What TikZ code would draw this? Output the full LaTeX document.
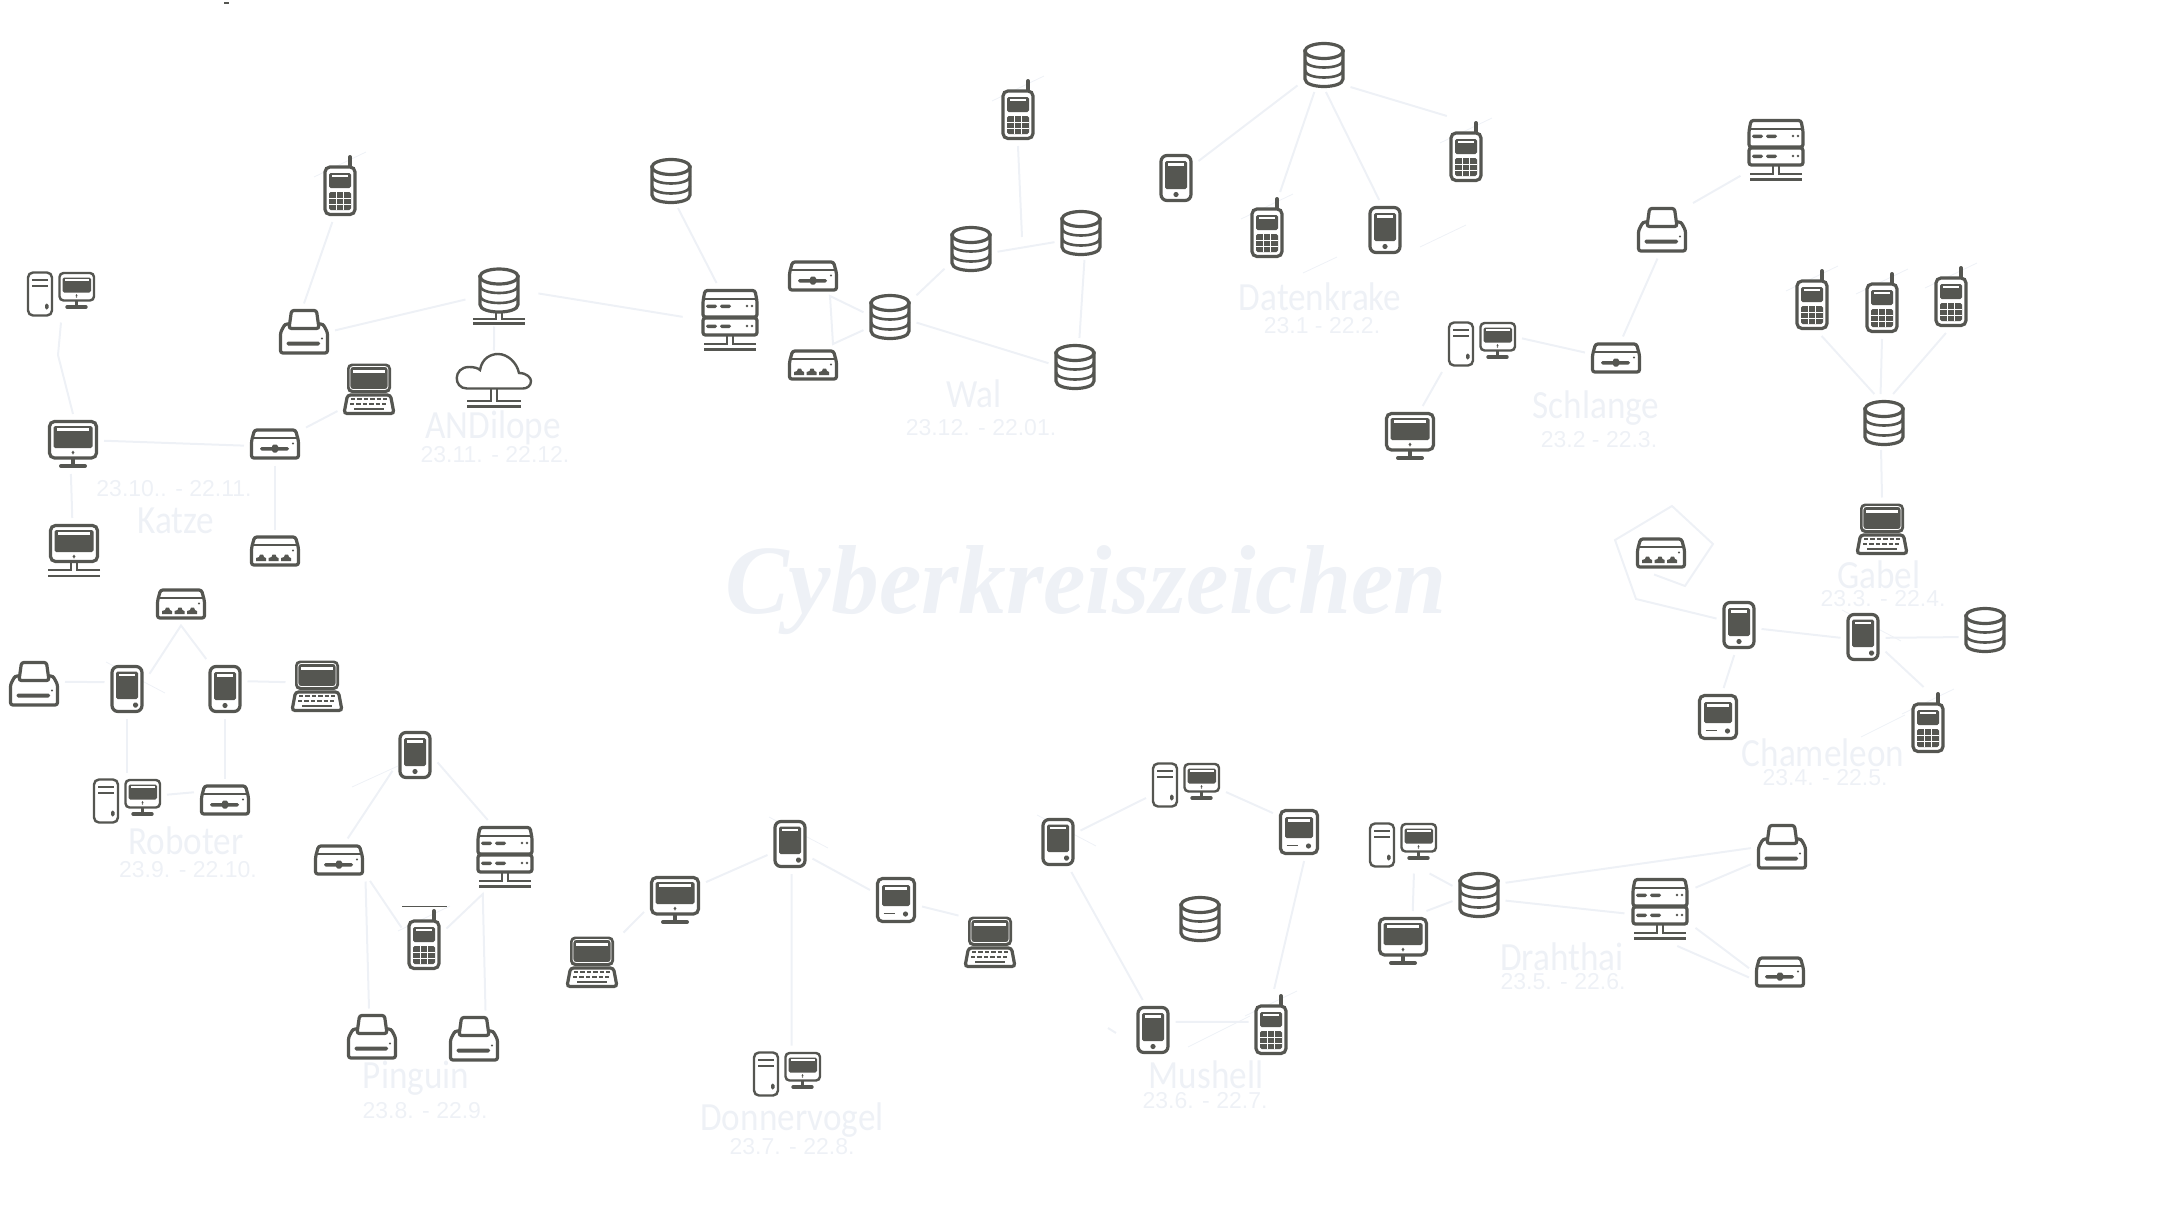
\documentclass[tikz,border=0pt]{standalone}
\usepackage{fontspec}
\setmainfont{Liberation Sans}
\newfontfamily\namefont[FakeStretch=0.88]{Carlito}
\newfontfamily\titlefont[FakeStretch=0.975]{Liberation Serif}
\definecolor{icongray}{HTML}{555651}
\definecolor{faint}{HTML}{EEF1F6}

\tikzset{
  ink/.style={draw=icongray,line width=1.6pt,fill=white,rounded corners=1.5pt},
  wire/.style={draw=icongray,line width=1.1pt},
  blot/.style={fill=icongray,rounded corners=0.8pt},
  glint/.style={fill=white},
  hair/.style={draw=faint,line width=0.4pt},
  link/.style={draw=faint,line width=1pt},
  iconbox/.style={inner sep=0pt,outer sep=3pt},
  cellbox/.style={iconbox,minimum width=16.5pt,minimum height=30pt},
  phonebox/.style={iconbox,minimum width=16.5pt,minimum height=24pt},
  pdabox/.style={iconbox,minimum width=16.5pt,minimum height=24pt},
  palmbox/.style={iconbox,minimum width=20pt,minimum height=23pt},
  monitorbox/.style={iconbox,minimum width=25pt,minimum height=24pt},
  monnetbox/.style={iconbox,minimum width=26pt,minimum height=27pt},
  deskbox/.style={iconbox,minimum width=34pt,minimum height=22.5pt},
  printerbox/.style={iconbox,minimum width=25pt,minimum height=22.5pt},
  laptopbox/.style={iconbox,minimum width=25.5pt,minimum height=25.5pt},
  switchbox/.style={iconbox,minimum width=25pt,minimum height=15.5pt},
  hubbox/.style={iconbox,minimum width=25pt,minimum height=15.5pt},
  serverbox/.style={iconbox,minimum width=29.5pt,minimum height=31pt},
  dbbox/.style={iconbox,minimum width=20.5pt,minimum height=22pt},
  dbnetbox/.style={iconbox,minimum width=27.5pt,minimum height=28.5pt},
  cloudbox/.style={iconbox,minimum width=37pt,minimum height=27.5pt},
  groupname/.style={text=faint,font=\namefont\fontsize{20}{20}\selectfont,anchor=base,inner sep=0pt,text height=13pt,text depth=0pt},
  groupdate/.style={text=faint,font=\fontsize{11.5}{12}\selectfont,anchor=base,inner sep=0pt,text height=8.5pt,text depth=0pt},
  cell/.pic={
    \draw[hair] (-26,-9) -- (26,-34);
    \draw[icongray,line width=2pt,line cap=round] (10,-29) -- (10,-20);
    \path[ink,rounded corners=2.5pt] (-15,-19) rectangle (15,28.5);
    \path[blot] (-11,-13) rectangle (11,2);
    \path[glint] (-8,-11) rectangle (8,-9.5);
    \path[blot] (-11,6) rectangle (11,24);
    \draw[white,line width=0.4pt] (-3.7,6) -- (-3.7,24) (3.7,6) -- (3.7,24) (-11,12) -- (11,12) (-11,18) -- (11,18);
  },
  phone/.pic={
    \path[ink,rounded corners=3pt] (-15,-22.5) rectangle (15,22.5);
    \path[blot] (-11,-17) rectangle (11,11);
    \path[glint] (-8,-15) rectangle (8,-12.5);
    \fill[icongray] (0,16.5) circle (1.3pt);
  },
  pda/.pic={
    \draw[hair] (-21,-27) -- (38,4);
    \path[ink,rounded corners=3pt] (-15,-22.5) rectangle (15,22.5);
    \path[blot] (-11,-17.5) rectangle (11,10);
    \path[glint] (-8,-15.5) rectangle (8,-13.5);
    \path[blot] (6,13.5) rectangle (11,18.5);
  },
  palm/.pic={
    \path[ink,rounded corners=2.5pt] (-18.5,-21.5) rectangle (18.5,21.5);
    \path[blot] (-14,-15) rectangle (14,6);
    \path[glint] (-11,-13) rectangle (11,-10.5);
    \draw[icongray,line width=0.9pt] (-12.5,13.5) -- (-1.5,13.5);
    \fill[icongray] (9.5,14) circle (1.3pt);
  },
  monitor/.pic={
    \draw[icongray,line width=1.6pt] (0,13) -- (0,21);
    \draw[icongray,line width=2pt,line cap=round] (-12,22) -- (12,22);
    \path[ink,rounded corners=2.5pt] (-23.5,-22.5) rectangle (23.5,14);
    \path[blot] (-19.5,-18) rectangle (19.5,4);
    \path[glint] (-16,-16) rectangle (16,-13.5);
    \path[blot] (-1.3,6.5) rectangle (1.3,10.5);
  },
  monnet/.pic={
    \path[ink,rounded corners=2.5pt] (-23.5,-25.5) rectangle (23.5,10.5);
    \path[blot] (-19.5,-21) rectangle (19.5,1);
    \path[glint] (-16,-19) rectangle (16,-16.5);
    \path[blot] (-1.3,3.5) rectangle (1.3,7.5);
    \draw[wire] (-26,19) -- (-3,19) -- (-3,11.5) (26,19) -- (3,19) -- (3,11.5) (-26,25) -- (26,25);
  },
  desk/.pic={
    \path[ink,line width=1.2pt,rounded corners=2.5pt] (-33,-21.5) rectangle (-9,21.5);
    \draw[wire,line width=0.9pt] (-29,-14) -- (-13,-14) (-29,-8) -- (-13,-8);
    \path[blot] (-16,9.5) rectangle (-12.5,15.5);
    \draw[icongray,line width=1.4pt] (15.5,6) -- (15.5,12);
    \draw[icongray,line width=1.7pt,line cap=round] (6,13) -- (25,13);
    \path[ink,line width=1.2pt,rounded corners=2pt] (-1.5,-21) rectangle (33,6.5);
    \path[blot] (1.5,-16.5) rectangle (30,-1.5);
    \path[glint] (4,-15) rectangle (27.5,-13);
    \path[blot] (14.5,0) rectangle (16.5,3.5);
  },
  printer/.pic={
    \path[ink,rounded corners=1.2pt] (-19,-8) -- (-23.5,0.5) -- (-23.5,21) -- (23.5,21) -- (23.5,0.5) -- (19,-8) -- cycle;
    \path[ink,rounded corners=1.2pt] (-12.5,-21.5) -- (12.5,-21.5) -- (15,-3.5) -- (-15,-3.5) -- cycle;
    \path[blot] (-17.5,9.5) rectangle (16,13.5);
    \fill[icongray] (18,6.5) circle (0.6pt);
  },
  laptop/.pic={
    \path[ink,rounded corners=1.5pt] (-21.5,6) -- (21.5,6) -- (25,24.5) -- (-25,24.5) -- cycle;
    \draw[icongray,line width=1pt,dash pattern=on 2.2pt off 1pt] (-18,10) -- (18,10) (-19,14.5) -- (19,14.5);
    \draw[icongray,line width=1pt] (-15,20) -- (15,20);
    \path[blot,rounded corners=2.5pt] (-22,-25.5) rectangle (22,4);
    \draw[white,line width=0.4pt,rounded corners=1.5pt] (-19,-22.5) rectangle (19,0.5);
    \path[glint] (-16,-19) rectangle (16,-16.5);
  },
  switch/.pic={
    \path[ink,rounded corners=1.2pt] (-20.5,-14) -- (20.5,-14) -- (23.5,-3) -- (23.5,14) -- (-23.5,14) -- (-23.5,-3) -- cycle;
    \draw[wire] (-22,-6) -- (22,-6);
    \path[blot] (-15,3) rectangle (14,6.5);
    \path[blot] (-3,0.5) rectangle (3,8.5);
    \fill[icongray] (18,-0.5) circle (0.6pt);
  },
  hub/.pic={
    \path[ink,rounded corners=1.2pt] (-20.5,-14) -- (20.5,-14) -- (23.5,-3) -- (23.5,14) -- (-23.5,14) -- (-23.5,-3) -- cycle;
    \draw[wire] (-22,-6) -- (22,-6);
    \fill[icongray] (-19,10) -- (-19,7) -- (-16,6) -- (-15,3.5) -- (-12,3.5) -- (-11,6) -- (-9,7) -- (-9,10) -- cycle;
    \fill[icongray] (-6.5,10) -- (-6.5,7) -- (-3.5,6) -- (-2.5,3.5) -- (0.5,3.5) -- (1.5,6) -- (3.5,7) -- (3.5,10) -- cycle;
    \fill[icongray] (6,10) -- (6,7) -- (9,6) -- (10,3.5) -- (13,3.5) -- (14,6) -- (16,7) -- (16,10) -- cycle;
    \fill[icongray] (18,-0.5) circle (0.6pt);
  },
  server/.pic={
    \path[ink,rounded corners=1.2pt] (-25,-29.5) -- (25,-29.5) -- (27,-19) -- (27,-3) -- (-27,-3) -- (-27,-19) -- cycle;
    \draw[wire] (-26,-21) -- (26,-21);
    \path[ink,rounded corners=1.2pt] (-27,-2) rectangle (27,15);
    \path[blot] (-24,-15.5) rectangle (-13,-12);
    \path[blot] (-10,-15.5) rectangle (1,-12);
    \fill[icongray] (17,-14) circle (0.7pt) (22,-14) circle (0.7pt);
    \path[blot] (-24,4.5) rectangle (-13,8);
    \path[blot] (-10,4.5) rectangle (1,8);
    \fill[icongray] (17,6) circle (0.7pt) (22,6) circle (0.7pt);
    \draw[wire] (-26,24) -- (-3,24) -- (-3,16) (26,24) -- (3,24) -- (3,16) (-26,29.5) -- (26,29.5);
  },
  db/.pic={
    \path[ink,rounded corners=0pt] (-19,-13) -- (-19,15) .. controls (-19,25) and (19,25) .. (19,15) -- (19,-13) -- cycle;
    \draw[ink,rounded corners=0pt] (0,-13) ellipse [x radius=19,y radius=7.5];
    \draw[wire,line width=1.3pt] (-19,-4) .. controls (-19,6) and (19,6) .. (19,-4) (-19,6) .. controls (-19,16) and (19,16) .. (19,6);
  },
  dbnet/.pic={
    \path[ink,rounded corners=0pt] (-19,-19.5) -- (-19,8.5) .. controls (-19,18.5) and (19,18.5) .. (19,8.5) -- (19,-19.5) -- cycle;
    \draw[ink,rounded corners=0pt] (0,-19.5) ellipse [x radius=19,y radius=7.5];
    \draw[wire,line width=1.3pt] (-19,-10.5) .. controls (-19,-0.5) and (19,-0.5) .. (19,-10.5) (-19,-0.5) .. controls (-19,9.5) and (19,9.5) .. (19,-0.5);
    \draw[wire] (-26,23) -- (-3,23) -- (-3,16) (26,23) -- (3,23) -- (3,16) (-26,27.5) -- (26,27.5);
  },
  cloud/.pic={
    \path[ink,line width=1.2pt,rounded corners=0pt] (-27,8.5) .. controls (-41,8.5) and (-41,-13) .. (-25,-13) .. controls (-20,-13) and (-16,-12) .. (-14,-10) .. controls (-12,-22) and (-3,-26) .. (4,-26) .. controls (14,-26) and (23,-17) .. (25,-7) .. controls (33,-7) and (37,-2) .. (37,1) .. controls (37,6) and (33,8.5) .. (29,8.5) -- cycle;
    \draw[wire] (-27,21) -- (-3,21) -- (-3,9) (27,21) -- (3,21) -- (3,9) (-27,26.5) -- (27,26.5);
  },
}
\newcommand{\iconat}[3]{\path (#3) pic {#1} node[#1box] (#2) {};}

\begin{document}
\begin{tikzpicture}[x=0.5pt,y=-0.5pt]
 \useasboundingbox (0,0) rectangle (2160,1215);

 \node[text=faint,font=\titlefont\bfseries\itshape\fontsize{49}{49}\selectfont,anchor=base,inner sep=0pt] (title) at (1086,613) {Cyberkreiszeichen};
 \coordinate (ticka) at (224,3);
 \coordinate (tickb) at (229,3);
 \draw[icongray,line width=1pt] (ticka) -- (tickb);

 \iconat{dbnet}{anddb}{499,296}
 \iconat{cloud}{andcloud}{494,380}
 \iconat{printer}{andprinter}{304,332}
 \iconat{cell}{andcell}{340,186}
 \node[groupname] (andname) at (493,438) {ANDilope};
 \node[groupdate] (anddate) at (495,462) {23.11. - 22.12.};

 \iconat{desk}{catdesk}{61,294}
 \iconat{monitor}{catmon}{73,444}
 \iconat{monnet}{catmonnet}{74,551}
 \iconat{switch}{catswitch}{275,444}
 \iconat{hub}{cathub}{275,551}
 \iconat{laptop}{catlaptop}{369,389}
 \node[groupname] (catname) at (176,533) {Katze};
 \node[groupdate] (catdate) at (174,496) {23.10.. - 22.11.};

 \iconat{hub}{robhub}{181,604}
 \iconat{printer}{robprinter}{34,684}
 \iconat{pda}{robpda}{127,689}
 \iconat{phone}{robphone}{225,689}
 \iconat{laptop}{roblaptop}{317,686}
 \iconat{desk}{robdesk}{127,801}
 \iconat{switch}{robswitch}{225,800}
 \node[groupname] (robname) at (186,854) {Roboter};
 \node[groupdate] (robdate) at (188,877) {23.9. - 22.10.};

 \iconat{phone}{pinphone}{415,755}
 \iconat{switch}{pinswitch}{339,860}
 \iconat{server}{pinserver}{505,857}
 \iconat{cell}{pincell}{424,940}
 \iconat{printer}{pinprinterl}{372,1037}
 \iconat{printer}{pinprinterr}{474,1039}
 \node[groupname] (pinname) at (416,1088) {Pinguin};
 \node[groupdate] (pindate) at (425,1118) {23.8. - 22.9.};

 \iconat{laptop}{donlaptopl}{592,962}
 \iconat{monitor}{donmon}{675,900}
 \iconat{pda}{donpda}{790,844}
 \iconat{palm}{donpalm}{896,900}
 \iconat{laptop}{donlaptopr}{990,942}
 \iconat{desk}{dondesk}{787,1074}
 \node[groupname] (donname) at (792,1130) {Donnervogel};
 \node[groupdate] (dondate) at (792,1154) {23.7. - 22.8.};

 \iconat{pda}{muspda}{1058,842}
 \iconat{desk}{musdesk}{1186,785}
 \iconat{palm}{muspalm}{1299,832}
 \iconat{db}{musdb}{1200,918}
 \iconat{phone}{musphone}{1153,1030}
 \iconat{cell}{muscell}{1271,1025}
 \node[groupname] (musname) at (1206,1088) {Mushell};
 \node[groupdate] (musdate) at (1205,1108) {23.6. - 22.7.};

 \iconat{desk}{drhdesk}{1403,845}
 \iconat{monitor}{drhmon}{1403,941}
 \iconat{db}{drhdb}{1479,894}
 \iconat{server}{drhserver}{1660,909}
 \iconat{printer}{drhprinter}{1782,847}
 \iconat{switch}{drhswitch}{1780,972}
 \node[groupname] (drhname) at (1562,970) {Drahthai};
 \node[groupdate] (drhdate) at (1563,989) {23.5. - 22.6.};

 \iconat{hub}{chahub}{1661,553}
 \iconat{phone}{chaphone}{1739,625}
 \iconat{pda}{chapda}{1863,637}
 \iconat{db}{chadb}{1985,629}
 \iconat{cell}{chacell}{1928,723}
 \iconat{palm}{chapalm}{1718,717}
 \node[groupname] (chaname) at (1823,766) {Chameleon};
 \node[groupdate] (chadate) at (1825,785) {23.4. - 22.5.};

 \iconat{cell}{gabcella}{1812,300}
 \iconat{cell}{gabcellb}{1882,303}
 \iconat{cell}{gabcellc}{1951,297}
 \iconat{db}{gabdb}{1884,422}
 \iconat{laptop}{gablaptop}{1882,529}
 \node[groupname] (gabname) at (1879,588) {Gabel};
 \node[groupdate] (gabdate) at (1883,606) {23.3. - 22.4.};

 \iconat{server}{schserver}{1776,150}
 \iconat{printer}{schprinter}{1662,230}
 \iconat{switch}{schswitch}{1616,358}
 \iconat{desk}{schdesk}{1482,344}
 \iconat{monitor}{schmon}{1410,436}
 \node[groupname] (schname) at (1596,418) {Schlange};
 \node[groupdate] (schdate) at (1599,447) {23.2 - 22.3.};

 \iconat{db}{dkdb}{1324,64}
 \iconat{phone}{dkphonel}{1176,178}
 \iconat{cell}{dkcellm}{1267,228}
 \iconat{phone}{dkphoner}{1385,230}
 \iconat{cell}{dkcellr}{1466,152}
 \node[groupname] (dkname) at (1320,310) {Datenkrake};
 \node[groupdate] (dkdate) at (1322,333) {23.1 - 22.2.};

 \iconat{db}{waldb}{671,180}
 \iconat{server}{walserver}{730,320}
 \iconat{switch}{walswitch}{813,276}
 \iconat{hub}{walhub}{813,365}
 \iconat{db}{waldba}{890,316}
 \iconat{db}{waldbb}{971,248}
 \iconat{db}{waldbc}{1081,232}
 \iconat{db}{waldbd}{1075,366}
 \iconat{cell}{walcell}{1018,110}
 \node[groupname] (walname) at (974,407) {Wal};
 \node[groupdate] (waldate) at (981,435) {23.12. - 22.01.};

 \coordinate (catbend) at (58,355);
 \coordinate (walbenda) at (830,296);
 \coordinate (walbendb) at (833,344);
 \coordinate (walend) at (1022,237);
 \coordinate (chabenda) at (1636,599);
 \coordinate (chabendb) at (1615,540);
 \coordinate (chabendc) at (1672,506);
 \coordinate (chabendd) at (1713,544);
 \coordinate (chabende) at (1685,586);

 \draw[link] (andprinter.90) -- (andcell.258);
 \draw[link] (andprinter.3) -- (anddb.186);
 \draw[link,shorten <=-2pt,shorten >=-2pt] (anddb.262) -- (andcloud.90);
 \draw[link,shorten <=3pt,shorten >=6pt] (anddb.6) -- (walserver.178);

 \draw[link] (catdesk.270) -- (catbend) -- (catmon.90);
 \draw[link] (catmon.6) -- (catswitch.183);
 \draw[link] (catmon.266) -- (catmonnet.93);
 \draw[link] (catswitch.270) -- (cathub.90);
 \draw[link] (catswitch.28) -- (catlaptop.215);

 \draw[link] (robpda.34) -- (robhub.270) -- (robphone.122);
 \draw[link] (robprinter.4) -- (robpda.163);
 \draw[link] (robphone.19) -- (roblaptop.173);
 \draw[link] (robpda.270) -- (robdesk.90);
 \draw[link] (robphone.270) -- (robswitch.90);
 \draw[link] (robdesk.9) -- (robswitch.166);

 \draw[link] (pinphone.215) -- (pinswitch.68);
 \draw[link] (pinphone.342) -- (pinserver.115);
 \draw[link] (pinswitch.326) -- (pincell.151);
 \draw[link] (pinswitch.321) -- (pinprinterl.96);
 \draw[link] (pincell.27) -- (pinserver.239) -- (pinprinterr.68);

 \draw[link] (donlaptopl.43) -- (donmon.201);
 \draw[link] (donmon.30) -- (donpda.206);
 \draw[link] (donpda.327) -- (donpalm.159);
 \draw[link] (donpalm.346) -- (donlaptopr.140);
 \draw[link] (donpda.273) -- (dondesk.81);

 \draw[link] (muspda.27) -- (musdesk.198);
 \draw[link] (musdesk.350) -- (muspalm.144);
 \draw[link] (muspalm.280) -- (muscell.85);
 \draw[link] (muspda.294) -- (musphone.109);
 \draw[link] (musphone.20) -- (muscell.172);

 \draw[link] (drhdesk.313) -- (drhdb.163);
 \draw[link] (drhmon.52) -- (drhdb.195);
 \draw[link] (drhdesk.291) -- (drhmon.72);
 \draw[link] (drhdb.23) -- (drhprinter.182);
 \draw[link] (drhdb.346) -- (drhserver.187);
 \draw[link] (drhserver.31) -- (drhprinter.209);
 \draw[link] (drhserver.332) -- (drhswitch.173);
 \draw[link] (drhserver.295) -- (drhswitch.190);

 \draw[link] (chaphone.164) -- (chabenda) -- (chabendb) -- (chabendc) -- (chabendd) -- (chabende) -- (chahub.252);
 \draw[link] (chaphone.350) -- (chapda.182);
 \draw[link] (chaphone.261) -- (chapalm.79);
 \draw[link] (chapda.358) -- (chadb.197);
 \draw[link] (chapda.327) -- (chacell.97);

 \draw[link] (gabcella.285) -- (gabdb.109);
 \draw[link] (gabcellb.270) -- (gabdb.97);
 \draw[link] (gabcellc.262) -- (gabdb.72);
 \draw[link] (gabdb.264) -- (gablaptop.90);

 \draw[link] (schserver.216) -- (schprinter.41);
 \draw[link] (schprinter.261) -- (schswitch.72);
 \draw[link] (schswitch.170) -- (schdesk.8);
 \draw[link] (schdesk.215) -- (schmon.67);

 \draw[link] (dkdb.219) -- (dkphonel.37);
 \draw[link] (dkdb.251) -- (dkcellm.70);
 \draw[link] (dkdb.274) -- (dkphoner.101);
 \draw[link] (dkdb.319) -- (dkcellr.118);

 \draw[link] (waldb.284) -- (walserver.110);
 \draw[link] (waldba.172) -- (walbenda) -- (walbendb) -- (waldba.208);
 \draw[link] (waldba.38) -- (waldbb.218);
 \draw[link] (waldbb.352) -- (waldbc.201);
 \draw[link] (waldbc.277) -- (waldbd.81);
 \draw[link] (waldba.346) -- (waldbd.174);
 \draw[link] (walcell.270) -- (walend);

 \coordinate (pinstuba) at (398,766);
 \coordinate (pinstubb) at (352,787);
 \draw[hair] (pinstuba) -- (pinstubb);
 \coordinate (pinbara) at (402,906);
 \coordinate (pinbarb) at (447,906);
 \draw[icongray,line width=0.4pt] (pinbara) -- (pinbarb);
 \coordinate (dkstuba) at (1303,273);
 \coordinate (dkstubb) at (1337,257);
 \draw[hair] (dkstuba) -- (dkstubb);
 \coordinate (dkstubc) at (1420,247);
 \coordinate (dkstubd) at (1466,225);
 \draw[hair] (dkstubc) -- (dkstubd);
 \coordinate (chastuba) at (1861,737);
 \coordinate (chastubb) at (1905,715);
 \draw[hair] (chastuba) -- (chastubb);
 \coordinate (musstuba) at (1188,1047);
 \coordinate (musstubb) at (1250,1016);
 \draw[hair] (musstuba) -- (musstubb);
 \coordinate (musstubc) at (1108,1028);
 \coordinate (musstubd) at (1116,1033);
 \draw[link] (musstubc) -- (musstubd);
\end{tikzpicture}
\end{document}
